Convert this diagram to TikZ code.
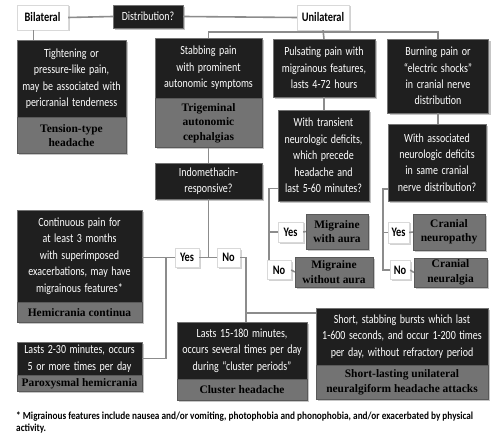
\documentclass[tikz,border=0pt]{standalone}
\usepackage{fontspec}
\newfontfamily\condfont[FakeStretch=0.8,WordSpace=1.6]{Carlito}
\newfontfamily\dxfont{Liberation Serif}
\newfontfamily\notefont[FakeStretch=0.86]{Carlito}
\usetikzlibrary{shadows}

\begin{document}
\begin{tikzpicture}[x=1bp,y=-1bp,
    darkbox/.style={draw=black!55, fill=black!88, text=white, align=center, inner sep=1bp,
        font=\condfont\fontsize{12.5}{16.5}\selectfont,
        drop shadow={shadow xshift=2bp, shadow yshift=-2bp, opacity=0.45}},
    greybox/.style={draw=black!65, fill=black!55, text=black, align=center, inner sep=1bp,
        font=\dxfont\bfseries\fontsize{11.5}{14.5}\selectfont,
        drop shadow={shadow xshift=2bp, shadow yshift=-2bp, opacity=0.45}},
    tagbox/.style={draw=black!15, fill=white, text=black, inner sep=1bp,
        font=\condfont\bfseries\fontsize{13}{14}\selectfont,
        drop shadow={shadow xshift=1.5bp, shadow yshift=-1.5bp, opacity=0.35}},
    link/.style={draw=black!45, line width=1.6bp}]
    \fill[white] (0,0) rectangle (502,441);
    \useasboundingbox (0,0) rectangle (502,441);

    % top row
    \node[tagbox, minimum width=51bp, minimum height=25bp] (bil) at (42.5,17.5) {Bilateral};
    \node[darkbox, minimum width=70bp, minimum height=23bp] (dist) at (148,16.5) {Distribution?};
    \node[tagbox, minimum width=52bp, minimum height=25bp] (unil) at (323,17.5) {Unilateral};

    % bilateral side
    \node[darkbox, minimum width=109bp, minimum height=77bp] (tens) at (71.5,78.5)
        {Tightening or\\pressure-like pain,\\may be associated with\\pericranial tenderness};
    \node[greybox, minimum width=109bp, minimum height=36bp, anchor=north] (tensdx) at (tens.south)
        {Tension-type\\headache};

    % unilateral columns
    \node[darkbox, minimum width=107bp, minimum height=60bp] (tac) at (208.5,68)
        {Stabbing pain\\with prominent\\autonomic symptoms};
    \node[greybox, minimum width=107bp, minimum height=49bp, anchor=north] (tacdx) at (tac.south)
        {Trigeminal\\autonomic\\cephalgias};
    \node[darkbox, minimum width=102bp, minimum height=58bp] (puls) at (324,68)
        {Pulsating pain with\\migrainous features,\\lasts 4-72 hours};
    \node[darkbox, minimum width=101bp, minimum height=74bp] (burn) at (438,76)
        {Burning pain or\\“electric shocks”\\in cranial nerve\\distribution};

    % migraine
    \node[darkbox, minimum width=91bp, minimum height=91bp] (tra) at (323.5,155.5)
        {With transient\\neurologic deficits,\\which precede\\headache and\\last 5-60 minutes?};
    \node[tagbox, minimum width=25bp, minimum height=20bp] (tyes) at (290.5,232) {Yes};
    \node[greybox, minimum width=62bp, minimum height=35bp] (mwa) at (337,231.5) {Migraine\\with aura};
    \node[tagbox, minimum width=24bp, minimum height=19bp] (tno) at (279,270) {No};
    \node[greybox, minimum width=78bp, minimum height=30bp] (mwoa) at (334,272) {Migraine\\without aura};

    % cranial nerves
    \node[darkbox, minimum width=98bp, minimum height=77bp] (assoc) at (437,162.5)
        {With associated\\neurologic deficits\\in same cranial\\nerve distribution?};
    \node[tagbox, minimum width=21bp, minimum height=21bp] (cyes) at (398.5,232.5) {Yes};
    \node[greybox, minimum width=72bp, minimum height=36bp] (cneur) at (449,232) {Cranial\\neuropathy};
    \node[tagbox, minimum width=20bp, minimum height=19bp] (cno) at (400,270) {No};
    \node[greybox, minimum width=73bp, minimum height=29bp] (cnlg) at (450.5,272.5) {Cranial\\neuralgia};

    % trigeminal autonomic
    \node[darkbox, minimum width=107bp, minimum height=36bp] (indo) at (208.5,181)
        {Indomethacin-\\responsive?};
    \node[tagbox, minimum width=24bp, minimum height=19bp] (iyes) at (187,257.5) {Yes};
    \node[tagbox, minimum width=23bp, minimum height=19bp] (ino) at (228.5,257.5) {No};

    \node[darkbox, minimum width=125bp, minimum height=92bp] (hc) at (79.5,256)
        {Continuous pain for\\at least 3 months\\with superimposed\\exacerbations, may have\\migrainous features*};
    \node[greybox, minimum width=125bp, minimum height=20bp, anchor=north] (hcdx) at (hc.south)
        {Hemicrania continua};
    \node[darkbox, minimum width=125bp, minimum height=33bp] (ph) at (79.5,358.5)
        {Lasts 2-30 minutes, occurs\\5 or more times per day};
    \node[greybox, minimum width=125bp, minimum height=16bp, anchor=north] (phdx) at (ph.south)
        {Paroxysmal hemicrania};
    \node[darkbox, minimum width=130bp, minimum height=57bp] (ch) at (242,350.5)
        {Lasts 15-180 minutes,\\occurs several times per day\\during “cluster periods”};
    \node[greybox, minimum width=130bp, minimum height=21bp, anchor=north] (chdx) at (ch.south)
        {Cluster headache};
    \node[darkbox, minimum width=172bp, minimum height=57bp] (sunct) at (402,336.5)
        {Short, stabbing bursts which last\\1-600 seconds, and occur 1-200 times\\per day, without refractory period};
    \node[greybox, minimum width=172bp, minimum height=34bp, anchor=north] (sunctdx) at (sunct.south)
        {Short-lasting unilateral\\neuralgiform headache attacks};

    \node[anchor=north west, align=left, inner sep=0, font=\notefont\bfseries\fontsize{10.8}{11.5}\selectfont] (note) at (16,412)
        {* Migrainous features include nausea and/or vomiting, photophobia and phonophobia, and/or exacerbated by physical\\activity.};

    % connectors
    \coordinate (ujoin) at (323,32);
    \coordinate (yjoin) at (166,257.5);
    \coordinate (njoin) at (246,257.5);
    \coordinate (sjoin) at (246,313);
    \draw[link] (bil.east) -- (dist.west);
    \draw[link] (dist.east) -- (unil.west);
    \draw[link] ([xshift=-9bp]bil.south) -- ([xshift=-9bp]bil.south |- tens.north);
    \draw[link] (unil.south) -- (puls.north);
    \draw[link] (tac.north) |- (ujoin) -| (burn.north);
    \draw[link] (puls.south) -- (puls.south |- tra.north);
    \draw[link] (burn.south) -- (burn.south |- assoc.north);
    \draw[link] ([yshift=-33bp]tra.west) -- ++(-9bp,0) coordinate (tbr) -- (tbr |- tno.north);
    \draw[link] (tbr |- tyes.west) -- (tyes.west);
    \draw[link] (tyes.east) -- (mwa.west);
    \draw[link] (tno.east) -- (mwoa.west);
    \draw[link] ([yshift=-26.5bp]assoc.west) -- ++(-5bp,0) coordinate (cbr) |- (cno.west);
    \draw[link] (cbr |- cyes.west) -- (cyes.west);
    \draw[link] (cyes.east) -- (cneur.west);
    \draw[link] (cno.east) -- (cnlg.west);
    \draw[link] (tacdx.south) -- (indo.north);
    \draw[link] (indo.south) -- (indo.south |- iyes.east);
    \draw[link] (iyes.east) -- (ino.west);
    \draw[link] (iyes.west) -- (iyes.west -| hc.east);
    \draw[link] (yjoin) |- (ph.east);
    \draw[link] (ino.east) -- (njoin) -- (njoin |- ch.north);
    \draw[link] (sjoin) -- (sjoin -| sunct.west);
\end{tikzpicture}
\end{document}
